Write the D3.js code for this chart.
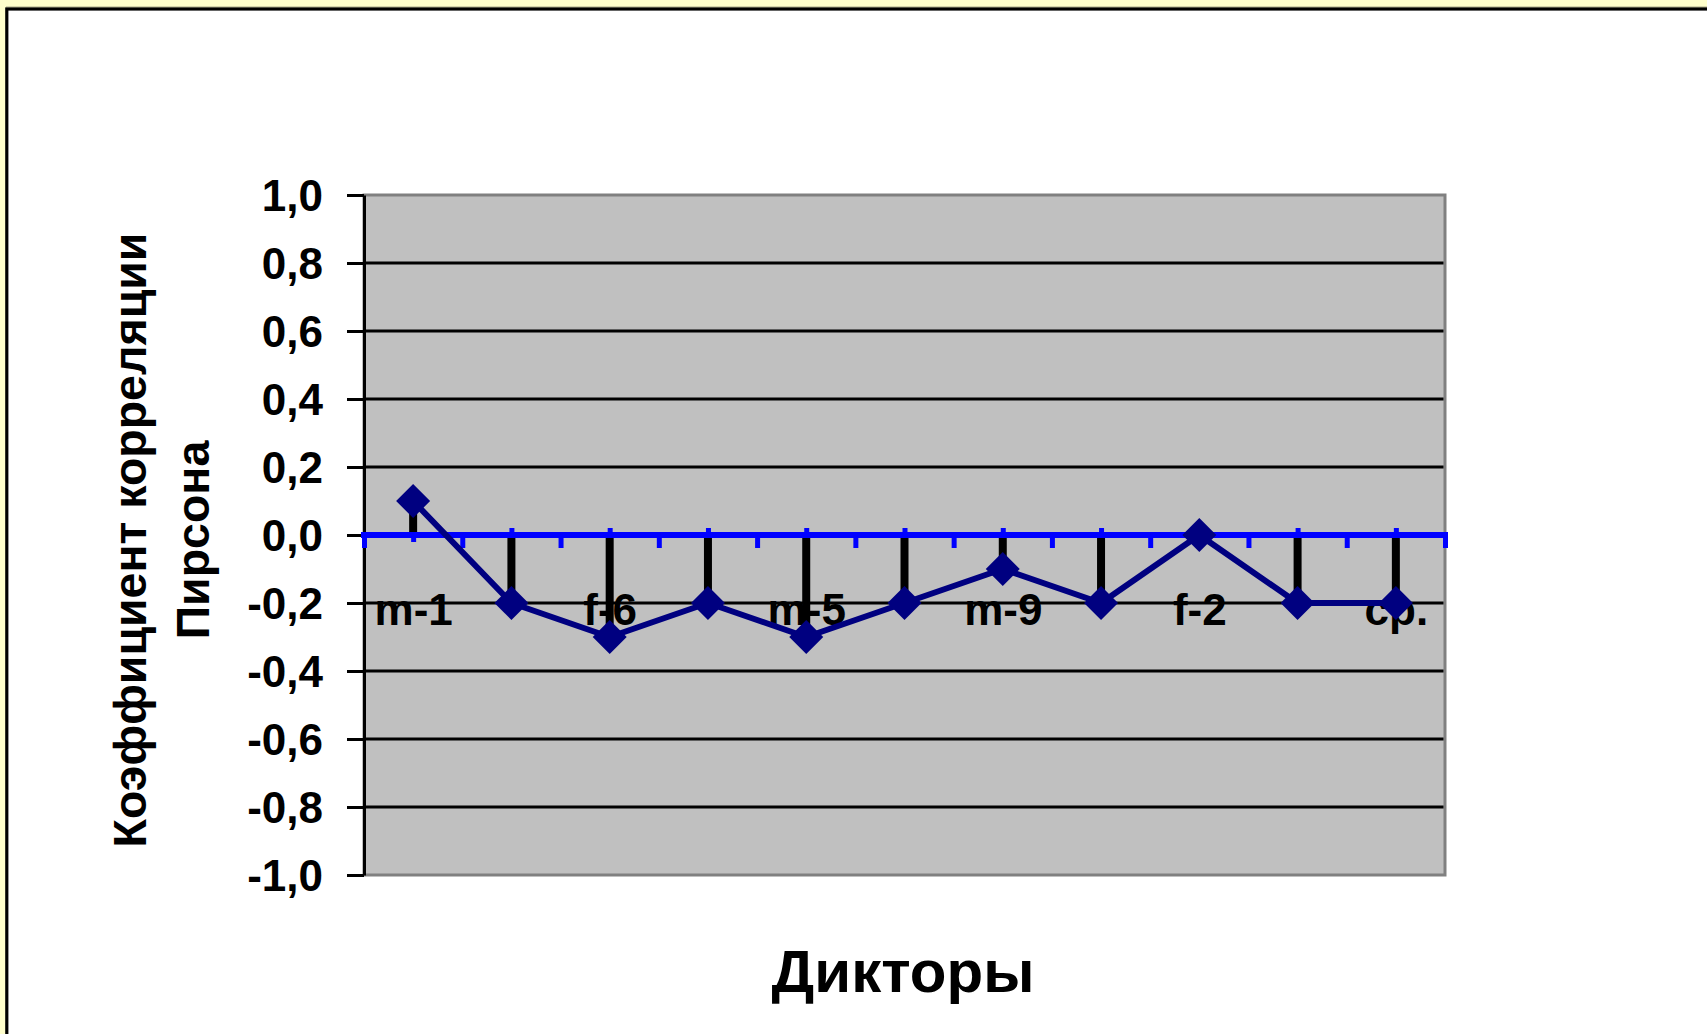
<!DOCTYPE html>
<html>
<head>
<meta charset="utf-8">
<script src="https://cdn.jsdelivr.net/npm/d3@7"></script>
<style>
  html, body { margin: 0; padding: 0; background: #ffffff; }
  svg { display: block; }
  text { font-family: "Liberation Sans", Arial, sans-serif; font-weight: bold; fill: #000; }
</style>
</head>
<body>
<svg id="chart" width="1707" height="1034"></svg>
<script>
// Speakers along the category axis (every other name is printed)
const categories = ["m-1", "f-1", "f-6", "m-2", "m-5", "f-3", "m-9", "f-4", "f-2", "m-3", "ср."];
// Pearson correlation coefficient per speaker
const values = [0.1, -0.2, -0.3, -0.2, -0.3, -0.2, -0.1, -0.2, 0.0, -0.2, -0.2];
// Value axis ticks
const yTicks = [-1.0, -0.8, -0.6, -0.4, -0.2, 0.0, 0.2, 0.4, 0.6, 0.8, 1.0];

const yTitleLines = ["Коэффициент корреляции", "Пирсона"];
const xTitle = "Дикторы";

const W = 1707, H = 1034;
const plot = { left: 364, right: 1445, top: 195, bottom: 875 };

const svg = d3.select("#chart");

// Slide backdrop: pale yellow margin with a black-framed white panel
svg.append("rect").attr("width", W).attr("height", H).attr("fill", "#FFFFCC");
svg.append("line").attr("x1", 6).attr("x2", W).attr("y1", 7).attr("y2", 7)
  .attr("stroke", "#A8A88A").attr("stroke-width", 1);
svg.append("rect")
  .attr("x", 6.8).attr("y", 9)
  .attr("width", W + 10).attr("height", H + 10)
  .attr("fill", "#ffffff").attr("stroke", "#000").attr("stroke-width", 3.2);

const y = d3.scaleLinear().domain([-1, 1]).range([plot.bottom, plot.top]);
const xPoint = d3.scalePoint().domain(categories).range([plot.left, plot.right]).padding(0.5);
const xIndex = d3.scaleLinear().domain([0, categories.length]).range([plot.left, plot.right]);

const locale = d3.formatLocale({ decimal: ",", thousands: " ", grouping: [3], currency: ["", ""], minus: "-" });
const fmt = locale.format(".1f");

// Plot area
svg.append("rect")
  .attr("x", plot.left).attr("y", plot.top)
  .attr("width", plot.right - plot.left).attr("height", plot.bottom - plot.top)
  .attr("fill", "#C0C0C0").attr("stroke", "#808080").attr("stroke-width", 3);

// Horizontal gridlines
svg.append("g").selectAll("line")
  .data(yTicks.filter(t => t > -1 && t < 1))
  .join("line")
  .attr("x1", plot.left).attr("x2", plot.right - 1.5)
  .attr("y1", d => y(d)).attr("y2", d => y(d))
  .attr("stroke", "#000").attr("stroke-width", 3);

// Value axis
const yAxis = svg.append("g")
  .attr("transform", `translate(${plot.left},0)`)
  .call(d3.axisLeft(y).tickValues(yTicks).tickSize(17).tickSizeOuter(0).tickPadding(24).tickFormat(fmt));
yAxis.select(".domain").attr("stroke", "#000").attr("stroke-width", 3);
yAxis.selectAll(".tick line").attr("stroke", "#000").attr("stroke-width", 3);
yAxis.selectAll(".tick text")
  .attr("font-size", 44).attr("font-family", "Liberation Sans, Arial, sans-serif")
  .attr("font-weight", "bold").attr("fill", "#000").attr("dy", "0.36em");

const y0 = y(0);

// Category labels (under drop lines and series)
const labelAxis = svg.append("g")
  .attr("transform", `translate(0,${y0})`)
  .call(d3.axisBottom(xPoint).tickSize(0).tickPadding(59)
    .tickFormat((d, i) => (i % 2 === 0 ? d : "")));
labelAxis.select(".domain").remove();
labelAxis.selectAll(".tick text")
  .attr("font-size", 44).attr("font-family", "Liberation Sans, Arial, sans-serif")
  .attr("font-weight", "bold").attr("fill", "#000");

// Category axis ticks: major between categories, minor crossing at each category
const majorAxis = svg.append("g")
  .attr("transform", `translate(0,${y0})`)
  .call(d3.axisBottom(xIndex).tickValues(d3.range(0, categories.length + 1))
    .tickSize(13).tickSizeOuter(0).tickFormat(""));
majorAxis.select(".domain").remove();
majorAxis.selectAll(".tick line").attr("stroke", "#0000FF").attr("stroke-width", 5);

const minorAxis = svg.append("g")
  .attr("transform", `translate(0,${y0 - 7})`)
  .call(d3.axisBottom(xPoint).tickSize(14).tickSizeOuter(0).tickFormat(""));
minorAxis.select(".domain").remove();
minorAxis.selectAll(".tick line").attr("stroke", "#0000FF").attr("stroke-width", 5);

// Drop lines from zero to each point
svg.append("g").selectAll("line")
  .data(values.map((v, i) => ({ c: categories[i], v })).filter(d => d.v !== 0))
  .join("line")
  .attr("x1", d => xPoint(d.c)).attr("x2", d => xPoint(d.c))
  .attr("y1", y0).attr("y2", d => y(d.v))
  .attr("stroke", "#000").attr("stroke-width", 8);

// Category axis line at zero
svg.append("line")
  .attr("x1", plot.left - 3).attr("x2", plot.right + 3)
  .attr("y1", y0).attr("y2", y0)
  .attr("stroke", "#0000FF").attr("stroke-width", 6);

// Series line
const data = categories.map((c, i) => ({ c, v: values[i] }));
svg.append("path")
  .datum(data)
  .attr("fill", "none").attr("stroke", "#000080").attr("stroke-width", 6)
  .attr("stroke-linejoin", "round")
  .attr("d", d3.line().x(d => xPoint(d.c)).y(d => y(d.v)));

// Diamond markers
const diamond = d3.symbol().type(d3.symbolSquare).size(2 * 17 * 17);
svg.append("g").selectAll("path")
  .data(data)
  .join("path")
  .attr("transform", d => `translate(${xPoint(d.c)},${y(d.v)}) rotate(45)`)
  .attr("d", diamond)
  .attr("fill", "#000080");

// Axis titles
svg.append("g")
  .attr("transform", "translate(146,540) rotate(-90)")
  .selectAll("text")
  .data(yTitleLines)
  .join("text")
  .attr("x", 0).attr("y", (d, i) => i * 63)
  .attr("text-anchor", "middle")
  .attr("font-size", 46.5)
  .text(d => d);

svg.append("text")
  .attr("x", 903).attr("y", 992)
  .attr("text-anchor", "middle")
  .attr("font-size", 60)
  .text(xTitle);
</script>
</body>
</html>
